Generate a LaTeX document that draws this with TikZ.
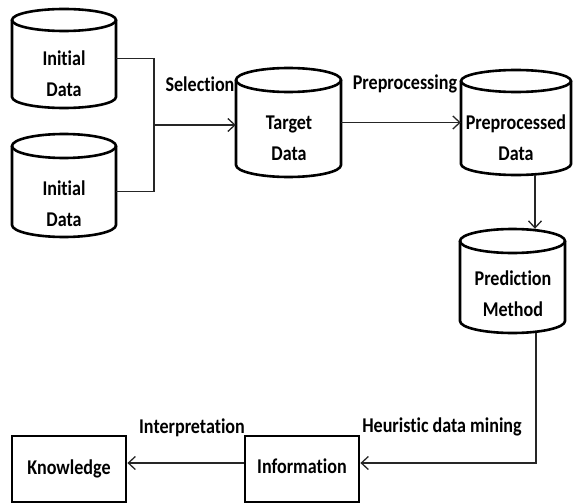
\documentclass[tikz,border=0pt]{standalone}
\usepackage{fontspec}
\setmainfont{Carlito}
\newfontfamily\diagfont[FakeStretch=0.86, Ligatures=NoCommon]{Carlito Bold}
\usetikzlibrary{arrows.meta}

% cylinder: name, left, right, top, bottom, ellipse half-height
\newcommand{\datacyl}[6]{%
  \node[inner sep=0, minimum width={(#3-#2)*1pt}, minimum height={(#5-#4)*1pt}]
    (#1) at ({(#2+#3)/2},{(#4+#5)/2}) {};
  \draw[cylline] ({(#2+#3)/2},{#4+#6}) ellipse[x radius={(#3-#2)/2}, y radius=#6];
  \draw[cylline] (#2,{#4+#6}) -- (#2,{#5-#6})
    arc[start angle=180, end angle=0, x radius={(#3-#2)/2}, y radius=#6]
    -- (#3,{#4+#6});
}

\begin{document}
\begin{tikzpicture}[x=1pt, y=-1pt,
  cylline/.style={line width=2.6pt, black},
  conn/.style={line width=1.5pt, black!85},
  arr/.style={conn, -{Straight Barb[length=7pt, width=13pt, line width=1.3pt]}},
  boxnode/.style={draw, line width=2.8pt, minimum width=114pt, minimum height=66pt, inner sep=0},
  cyltext/.style={align=center, font=\diagfont\fontsize{21}{31}\selectfont},
  lbl/.style={font=\diagfont\fontsize{21}{22}\selectfont, inner sep=0}]

\useasboundingbox (0,0) rectangle (573,503);

% data stores
\datacyl{i1}{12}{116}{9}{108}{11}
\datacyl{i2}{12}{116}{134}{237}{12}
\datacyl{tg}{236}{341}{68}{177}{12}
\datacyl{pp}{461}{571}{70}{175}{11}
\datacyl{pm}{460}{565}{229}{333}{12}

\node[cyltext] (i1t) at (64,74) {Initial\\Data};
\node[cyltext] (i2t) at (64,204) {Initial\\Data};
\node[cyltext] (tgt) at (289,138) {Target\\Data};
\node[cyltext] (ppt) at (516,138) {Preprocessed\\Data};
\node[cyltext] (pmt) at (513,294) {Prediction\\Method};

% result boxes
\node[boxnode, font=\diagfont\fontsize{21}{22}\selectfont] (kn) at (69,469) {\raisebox{2pt}{Knowledge}};
\node[boxnode, font=\diagfont\fontsize{21}{22}\selectfont] (inf) at (302,469) {\raisebox{5pt}{Information}};

% connectors
\coordinate (j) at (154,125);
\draw[conn] (i1.east) -| (j);
\draw[conn] ([yshift=-6pt]i2.east) -| (j);
\draw[arr] (j) -- (j -| tg.west);
\draw[arr] (tg.east) -- (tg.east -| pp.west);
\draw[arr] ([xshift=19pt]pp.south) -- ([xshift=19pt]pp.south |- pm.north);
\draw[arr] ([xshift=23.5pt]pm.south) |- ([yshift=6pt]inf.east);
\draw[arr] ([yshift=6pt]inf.west) -- ([yshift=6pt]kn.east);

% step labels
\node[lbl] (sel) at (200,84) {Selection};
\node[lbl] (pre) at (405,84) {Preprocessing};
\node[lbl] (heu) at (442,427) {Heuristic data mining};
\node[lbl] (int) at (192,428) {Interpretation};
\end{tikzpicture}
\end{document}
